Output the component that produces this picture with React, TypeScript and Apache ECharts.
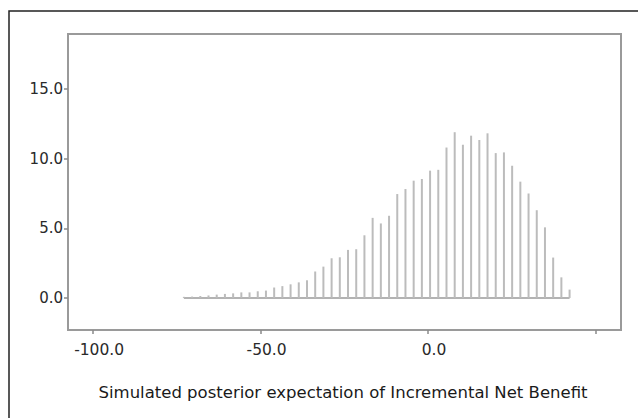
import React, { useEffect, useRef } from "react";
import * as echarts from "echarts";

// Histogram bin centres (x, INB units)
const binCenters = [
  -72.9, -70.45, -68.0, -65.55, -63.1, -60.65, -58.2, -55.75, -53.3, -50.85,
  -48.4, -45.95, -43.5, -41.05, -38.6, -36.15, -33.7, -31.25, -28.8, -26.35,
  -23.9, -21.45, -19.0, -16.55, -14.1, -11.65, -9.2, -6.75, -4.3, -1.85,
  0.6, 3.05, 5.5, 7.95, 10.4, 12.85, 15.3, 17.75, 20.2, 22.65,
  25.1, 27.55, 30.0, 32.45, 34.9, 37.35, 39.8, 42.25,
];
// Bar heights
const frequencies = [
  0.08, 0.1, 0.14, 0.18, 0.24, 0.29, 0.33, 0.4, 0.4, 0.48,
  0.53, 0.75, 0.85, 0.98, 1.12, 1.27, 1.9, 2.25, 2.85, 2.92,
  3.45, 3.5, 4.5, 5.75, 5.35, 5.9, 7.46, 7.82, 8.42, 8.54,
  9.14, 9.2, 10.8, 11.9, 11.0, 11.65, 11.34, 11.82, 10.4, 10.45,
  9.5, 8.35, 7.5, 6.3, 5.07, 2.9, 1.48, 0.6,
];
const xTickValues = [-100, -50, 0, 50];
const xLabelValues = [-100, -50, 0];
const yTickValues = [0, 5, 10, 15];
const xTitle = "Simulated posterior expectation of Incremental Net Benefit";

const FONT = '"DejaVu Sans", sans-serif';

export default function App() {
  const ref = useRef<HTMLDivElement>(null);
  useEffect(() => {
    const chart = echarts.init(ref.current!, null, { renderer: "svg" });
    const barData = binCenters.map((x, i) => [x, frequencies[i]]);
    const baseData = [
      [binCenters[0], 0],
      [binCenters[binCenters.length - 1], 0],
    ];
    chart.setOption({
      animation: false,
      backgroundColor: "#ffffff",
      grid: {
        left: 68,
        top: 34,
        right: 17,
        bottom: 88,
        show: true,
        borderColor: "#9a9a9a",
        borderWidth: 2,
        backgroundColor: "#ffffff",
      },
      xAxis: {
        type: "value",
        min: -107.5,
        max: 57.6,
        axisLine: { show: false, onZero: false },
        splitLine: { show: false },
        axisTick: {
          show: true,
          inside: false,
          customValues: xTickValues,
          length: 4,
          lineStyle: { color: "#8a8a8a", width: 1.5 },
        },
        axisLabel: {
          customValues: xLabelValues,
          formatter: (v: number) => v.toFixed(1),
          margin: 12,
          padding: [0, 0, 0, 12],
          color: "#2a2a2a",
          fontFamily: FONT,
          fontSize: 15.5,
        },
      },
      yAxis: {
        type: "value",
        min: -2.3,
        max: 18.95,
        axisLine: { show: false, onZero: false },
        splitLine: { show: false },
        axisTick: {
          show: true,
          inside: false,
          customValues: yTickValues,
          length: 4,
          lineStyle: { color: "#8a8a8a", width: 1.5 },
        },
        axisLabel: {
          customValues: yTickValues,
          formatter: (v: number) => v.toFixed(1),
          margin: 5,
          color: "#2a2a2a",
          fontFamily: FONT,
          fontSize: 15,
        },
      },
      series: [
        {
          type: "line",
          data: baseData,
          symbol: "none",
          lineStyle: { color: "#9a9a9a", width: 1.5 },
          silent: true,
          z: 1,
        },
        {
          type: "bar",
          data: barData,
          barWidth: 2,
          itemStyle: { color: "#bcbcbc" },
          silent: true,
          z: 2,
        },
      ],
      graphic: [
        {
          type: "rect",
          silent: true,
          shape: { x: 9, y: 11, width: 700, height: 500 },
          style: { fill: "none", stroke: "#222", lineWidth: 1.5 },
          z: 100,
        },
        {
          type: "text",
          silent: true,
          x: 343,
          y: 392,
          style: {
            text: xTitle,
            fontFamily: FONT,
            fontSize: 16.5,
            fill: "#1a1a1a",
            align: "center",
            verticalAlign: "middle",
          },
        },
      ],
    });
    return () => chart.dispose();
  }, []);
  return (
    <div
      ref={ref}
      style={{ position: "fixed", left: 0, top: 0, width: 638, height: 418, background: "#fff" }}
    />
  );
}
